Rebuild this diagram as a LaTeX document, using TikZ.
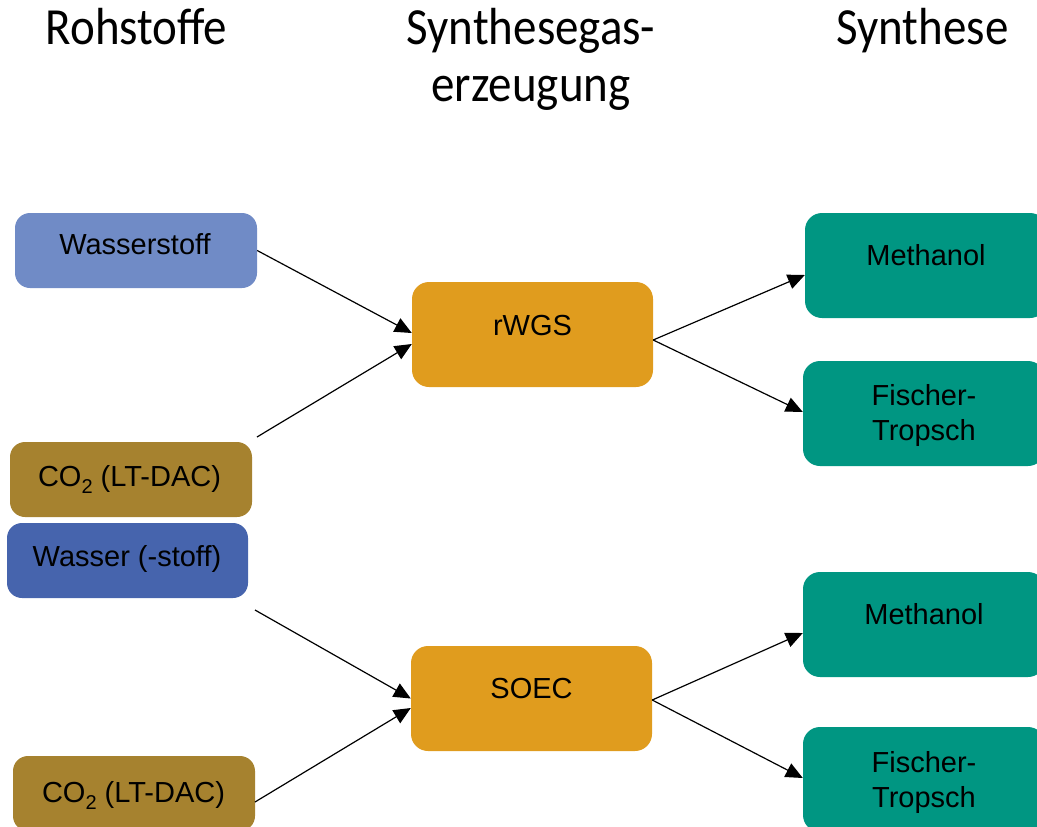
\documentclass[tikz,border=0pt]{standalone}
\usepackage{fontspec}
\usepackage{graphicx}
\setmainfont{Liberation Sans}
\newfontfamily\headfont{Carlito}
\usetikzlibrary{arrows.meta}
\definecolor{hblue}{RGB}{112,139,198}
\definecolor{wblue}{RGB}{70,100,173}
\definecolor{olive}{RGB}{166,130,47}
\definecolor{orng}{RGB}{224,156,30}
\definecolor{teal}{RGB}{0,150,130}
\newcommand{\cotwo}{CO\raisebox{-7pt}{\fontsize{20}{20}\selectfont 2}}
\newcommand{\hdr}[1]{\scalebox{1}[1.11]{#1}}
\begin{document}
\begin{tikzpicture}[x=1pt,y=-1pt,
  box/.style={rounded corners=15pt, minimum width=242pt, minimum height=75pt, inner sep=0pt},
  bigbox/.style={box, minimum height=105pt, rounded corners=17pt},
  txt/.style={font=\fontsize{29}{35}\selectfont, align=center, inner sep=0pt, anchor=base},
  head/.style={font=\headfont\fontsize{47}{50.5}\selectfont, inner sep=0pt, anchor=base},
  arr/.style={-{Triangle[length=17pt,width=15pt]}, line width=1.2pt}]
\useasboundingbox (0,0) rectangle (1037,827);
\clip (0,0) rectangle (1037,827);
% headers
\node[head] (h1) at (136.5,45) {\hdr{Rohstoffe}};
\node[head] (h2) at (531,45) {\hdr{\begin{tabular}[t]{@{}c@{}}Synthesegas-\\erzeugung\end{tabular}}};
\node[head] (h3) at (922.5,45) {\hdr{Synthese}};
% boxes
\node[box, fill=hblue] (wst) at (136,250.5) {};
\node[box, fill=olive] (co2a) at (131,479.5) {};
\node[box, fill=wblue, minimum width=241pt] (wasser) at (127.5,560.5) {};
\node[box, fill=olive] (co2b) at (134,793.5) {};
\node[bigbox, fill=orng, minimum width=241pt] (rwgs) at (532.5,334.5) {};
\node[bigbox, fill=orng, minimum width=241pt] (soec) at (531.5,698.5) {};
\node[bigbox, fill=teal] (meth1) at (926,265.5) {};
\node[bigbox, fill=teal] (ft1) at (924,413.5) {};
\node[bigbox, fill=teal] (meth2) at (924,624.5) {};
\node[bigbox, fill=teal] (ft2) at (924,779.5) {};
% texts
\node[txt] (t-wst) at (135,254.5) {Wasserstoff};
\node[txt] (t-co2a) at (129.5,486.5) {\cotwo{} (LT-DAC)};
\node[txt] (t-wasser) at (127,566.5) {Wasser (-stoff)};
\node[txt] (t-co2b) at (133.5,802.5) {\cotwo{} (LT-DAC)};
\node[txt] (t-rwgs) at (532.5,335.5) {rWGS};
\node[txt] (t-soec) at (531.5,698.5) {SOEC};
\node[txt] (t-meth1) at (926,265.5) {Methanol};
\node[txt] (t-ft1) at (924,440.5) {Fischer-\\Tropsch};
\node[txt] (t-meth2) at (924,624.5) {Methanol};
\node[txt] (t-ft2) at (924,807.5) {Fischer-\\Tropsch};
% free ends
\coordinate (s2) at (257,437);
\coordinate (s4) at (255,610);
\coordinate (s5) at (255,802);
% arrows
\draw[arr] (wst.east) -- ([yshift=1.5pt]rwgs.west);
\draw[arr] (s2) -- ([yshift=-9.5pt]rwgs.west);
\draw[arr] ([yshift=-5.5pt]rwgs.east) -- ([yshift=-9.5pt]meth1.west);
\draw[arr] ([yshift=-5.5pt]rwgs.east) -- ([yshift=1.5pt]ft1.west);
\draw[arr] (s4) -- (soec.west);
\draw[arr] (s5) -- ([yshift=-9.5pt]soec.west);
\draw[arr] ([yshift=-1.5pt]soec.east) -- ([yshift=-8.5pt]meth2.west);
\draw[arr] ([yshift=-1.5pt]soec.east) -- ([yshift=1.5pt]ft2.west);
\end{tikzpicture}
\end{document}
